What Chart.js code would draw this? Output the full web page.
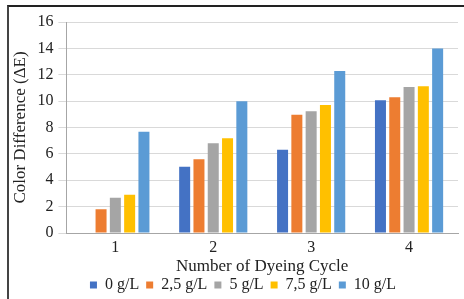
<!DOCTYPE html>
<html lang="en">
<head>
<meta charset="UTF-8">
<title>Color Difference</title>
<script src="https://cdn.jsdelivr.net/npm/chart.js"></script>
<style>
  html, body { margin: 0; padding: 0; background: #fff; overflow: hidden; }
  #wrap { position: relative; width: 464px; height: 299px; }
  #frame { position: absolute; left: 7px; top: 5px; width: 600px; height: 400px;
           border-top: 2px solid #222; border-left: 2px solid #444; }
  canvas { position: absolute; left: 0; top: 0; }
</style>
</head>
<body>
<div id="wrap">
  <div id="frame"></div>
  <canvas id="chart" width="464" height="299"></canvas>
</div>
<script>
// data
const cycles = ['1', '2', '3', '4'];
const conc0 = [0, 5.03, 6.32, 10.06];
const conc25 = [1.8, 5.6, 8.97, 10.29];
const conc5 = [2.67, 6.8, 9.24, 11.07];
const conc75 = [2.9, 7.19, 9.7, 11.12];
const conc10 = [7.67, 10.0, 12.29, 14.0];
const seriesLabels = ['0 g/L', '2,5 g/L', '5 g/L', '7,5 g/L', '10 g/L'];
const colors = ['#4472C4', '#ED7D31', '#A5A5A5', '#FFC000', '#5B9BD5'];

const font = 'Liberation Serif, Times New Roman, serif';
const allSeries = [conc0, conc25, conc5, conc75, conc10];

// legend in the original sits a little right of centre
const legendShift = {
    id: 'legendShift',
    afterLayout(chart) {
        chart.legend.left += 9;
        chart.legend.right += 9;
    }
};

const chart = new Chart(document.getElementById('chart'), {
    type: 'bar',
    data: {
        labels: cycles,
        datasets: allSeries.map((vals, i) => ({
            label: seriesLabels[i],
            data: vals,
            backgroundColor: colors[i],
            borderWidth: 0
        }))
    },
    options: {
        responsive: false,
        animation: false,
        datasets: { bar: { categoryPercentage: 0.73, barPercentage: 0.77 } },
        layout: { padding: { left: 10, right: 6, top: 22, bottom: -4 } },
        plugins: {
            legend: {
                position: 'bottom',
                labels: {
                    font: { family: font, size: 16, lineHeight: 1 },
                    color: '#222',
                    boxWidth: 7,
                    boxHeight: 7,
                    padding: 7
                }
            },
            tooltip: { enabled: false }
        },
        scales: {
            x: {
                grid: { display: false, drawTicks: false },
                border: { color: '#a6a6a6' },
                ticks: { font: { family: font, size: 16, lineHeight: 1 }, color: '#222', padding: 7 },
                title: { display: true, text: 'Number of Dyeing Cycle',
                         font: { family: font, size: 17, lineHeight: 1 }, color: '#222',
                         padding: { top: -5, bottom: -5 } }
            },
            y: {
                min: 0, max: 16,
                ticks: { stepSize: 2, font: { family: font, size: 16 }, color: '#222', padding: 5 },
                grid: { color: '#d9d9d9' },
                border: { color: '#a6a6a6' },
                title: { display: true, text: 'Color Difference (ΔE)',
                         font: { family: font, size: 17 }, color: '#222', padding: { top: 0, bottom: 2 } }
            }
        }
    },
    plugins: [legendShift]
});
</script>
</body>
</html>
